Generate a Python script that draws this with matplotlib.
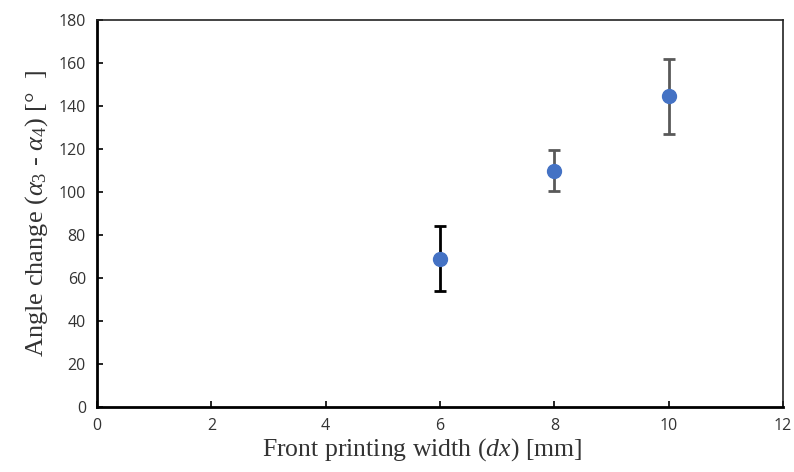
import matplotlib.pyplot as plt

# data
width_mm = [6, 8, 10]
angle_change = [69, 110, 144.5]
angle_err = [15.2, 9.5, 17.3]
err_colors = ['black', '#595959', '#595959']

plt.rcParams['mathtext.fontset'] = 'custom'
plt.rcParams['mathtext.it'] = 'Liberation Serif:italic'
plt.rcParams['mathtext.rm'] = 'Liberation Serif'

fig = plt.figure(figsize=(7.94, 4.72), dpi=100)
ax = fig.add_axes([97 / 794, 1 - 407 / 472, 686 / 794, 387 / 472])

for x, y, e, c in zip(width_mm, angle_change, angle_err, err_colors):
    ax.errorbar(x, y, yerr=e, fmt='none', ecolor=c, elinewidth=2,
                capsize=4, capthick=2, zorder=2)
ax.plot(width_mm, angle_change, 'o', color='#4472C4', markersize=10, zorder=3)

ax.set_xlim(0, 12)
ax.set_ylim(0, 180)
ax.set_xticks(range(0, 13, 2))
ax.set_yticks(range(0, 181, 20))
ax.tick_params(direction='in', length=4, width=1.2, labelsize=11.5,
               labelcolor='#333333', pad=8)
for lab in ax.get_xticklabels() + ax.get_yticklabels():
    lab.set_fontfamily('Open Sans')

for side in ['left', 'bottom']:
    ax.spines[side].set_linewidth(2)
    ax.spines[side].set_color('black')
for side in ['top', 'right']:
    ax.spines[side].set_linewidth(1.2)
    ax.spines[side].set_color('#222222')

ax.set_xlabel('Front printing width ($dx$) [mm]', fontfamily='Liberation Serif',
              fontsize=18.5, color='#333333')
ax.xaxis.set_label_coords(0.474, -0.075)
ax.set_ylabel(r'Angle change ($\alpha_3$ - $\alpha_4$) [$\degree$  ]',
              fontfamily='Liberation Serif', fontsize=19, color='#333333',
              labelpad=6)

fig.savefig('out.png', dpi=100)
